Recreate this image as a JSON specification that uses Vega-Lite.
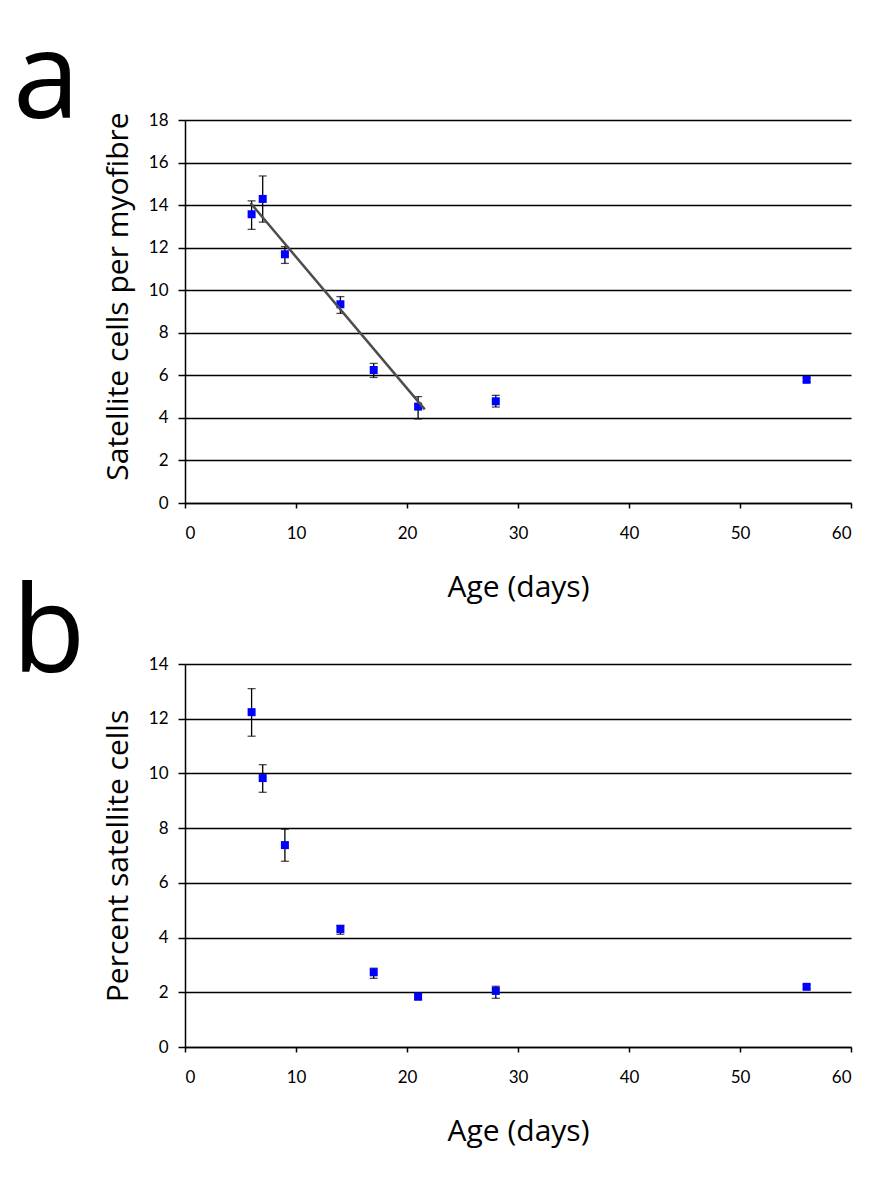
{
  "$schema": "https://vega.github.io/schema/vega-lite/v6.json",
  "background": "white",
  "padding": {"left": 12, "top": 22, "right": 35, "bottom": 30},
  "bounds": "flush",
  "spacing": 161,
  "config": {
    "view": {"stroke": null},
    "axis": {
      "domainColor": "black",
      "domainWidth": 1.5,
      "tickColor": "black",
      "tickWidth": 1.5,
      "labelColor": "black",
      "labelFont": "Lato",
      "labelFontSize": 17,
      "titleFont": "Open Sans",
      "titleFontSize": 30,
      "titleFontWeight": "normal",
      "titleColor": "black"
    },
    "axisX": {"grid": false, "tickSize": 5, "labelPadding": 17, "titleY": 84, "titleBaseline": "middle"},
    "axisY": {"grid": true, "gridColor": "black", "gridWidth": 1.3, "tickSize": 7, "labelPadding": 10, "titleX": -67, "titleBaseline": "middle"},
    "title": {"font": "Open Sans", "fontSize": 120, "fontWeight": "normal", "color": "black", "anchor": "start", "frame": "group", "baseline": "alphabetic"}
  },
  "vconcat": [
    {
      "title": {"text": "a", "dx": -172, "offset": -32},
      "width": 666,
      "height": 383,
      "data": {
        "values": [
          {"age": 6, "mean": 13.57, "lo": 12.86, "hi": 14.2},
          {"age": 7, "mean": 14.29, "lo": 13.2, "hi": 15.37},
          {"age": 9, "mean": 11.69, "lo": 11.26, "hi": 12.05},
          {"age": 14, "mean": 9.34, "lo": 8.91, "hi": 9.7},
          {"age": 17, "mean": 6.25, "lo": 5.9, "hi": 6.56},
          {"age": 21, "mean": 4.53, "lo": 3.95, "hi": 5.0},
          {"age": 28, "mean": 4.78, "lo": 4.51, "hi": 5.06},
          {"age": 56, "mean": 5.79, "lo": 5.7, "hi": 5.88}
        ]
      },
      "encoding": {
        "x": {
          "field": "age", "type": "quantitative",
          "scale": {"domain": [0, 60], "nice": false},
          "axis": {"values": [0, 10, 20, 30, 40, 50, 60], "title": "Age (days)"}
        }
      },
      "layer": [
        {
          "mark": {"type": "rule", "color": "black", "strokeWidth": 1.3},
          "encoding": {
            "y": {"field": "lo", "type": "quantitative", "scale": {"domain": [0, 18], "nice": false},
              "axis": {"values": [0, 2, 4, 6, 8, 10, 12, 14, 16, 18], "title": "Satellite cells per myofibre", "titleY": 176}},
            "y2": {"field": "hi"}
          }
        },
        {
          "mark": {"type": "tick", "orient": "horizontal", "color": "black", "size": 8, "thickness": 1.3},
          "encoding": {"y": {"field": "lo", "type": "quantitative"}}
        },
        {
          "mark": {"type": "tick", "orient": "horizontal", "color": "black", "size": 8, "thickness": 1.3},
          "encoding": {"y": {"field": "hi", "type": "quantitative"}}
        },
        {
          "mark": {"type": "point", "shape": "square", "filled": true, "size": 64, "color": "#0000ff", "opacity": 1},
          "encoding": {"y": {"field": "mean", "type": "quantitative"}}
        },
        {
          "data": {"values": [{"age": 5.9, "fit": 14.1}, {"age": 21.6, "fit": 4.4}]},
          "mark": {"type": "line", "color": "#4d4d4d", "strokeWidth": 2.5},
          "encoding": {"y": {"field": "fit", "type": "quantitative"}}
        }
      ]
    },
    {
      "title": {"text": "b", "dx": -173, "offset": -42},
      "width": 666,
      "height": 383,
      "data": {
        "values": [
          {"age": 6, "mean": 12.24, "lo": 11.36, "hi": 13.1},
          {"age": 7, "mean": 9.83, "lo": 9.31, "hi": 10.32},
          {"age": 9, "mean": 7.38, "lo": 6.79, "hi": 7.96},
          {"age": 14, "mean": 4.31, "lo": 4.12, "hi": 4.45},
          {"age": 17, "mean": 2.73, "lo": 2.51, "hi": 2.88},
          {"age": 21, "mean": 1.84, "lo": 1.73, "hi": 1.95},
          {"age": 28, "mean": 2.05, "lo": 1.78, "hi": 2.22},
          {"age": 56, "mean": 2.2, "lo": 2.13, "hi": 2.27}
        ]
      },
      "encoding": {
        "x": {
          "field": "age", "type": "quantitative",
          "scale": {"domain": [0, 60], "nice": false},
          "axis": {"values": [0, 10, 20, 30, 40, 50, 60], "title": "Age (days)"}
        }
      },
      "layer": [
        {
          "mark": {"type": "rule", "color": "black", "strokeWidth": 1.3},
          "encoding": {
            "y": {"field": "lo", "type": "quantitative", "scale": {"domain": [0, 14], "nice": false},
              "axis": {"values": [0, 2, 4, 6, 8, 10, 12, 14], "title": "Percent satellite cells"}},
            "y2": {"field": "hi"}
          }
        },
        {
          "mark": {"type": "tick", "orient": "horizontal", "color": "black", "size": 8, "thickness": 1.3},
          "encoding": {"y": {"field": "lo", "type": "quantitative"}}
        },
        {
          "mark": {"type": "tick", "orient": "horizontal", "color": "black", "size": 8, "thickness": 1.3},
          "encoding": {"y": {"field": "hi", "type": "quantitative"}}
        },
        {
          "mark": {"type": "point", "shape": "square", "filled": true, "size": 64, "color": "#0000ff", "opacity": 1},
          "encoding": {"y": {"field": "mean", "type": "quantitative"}}
        }
      ]
    }
  ]
}
